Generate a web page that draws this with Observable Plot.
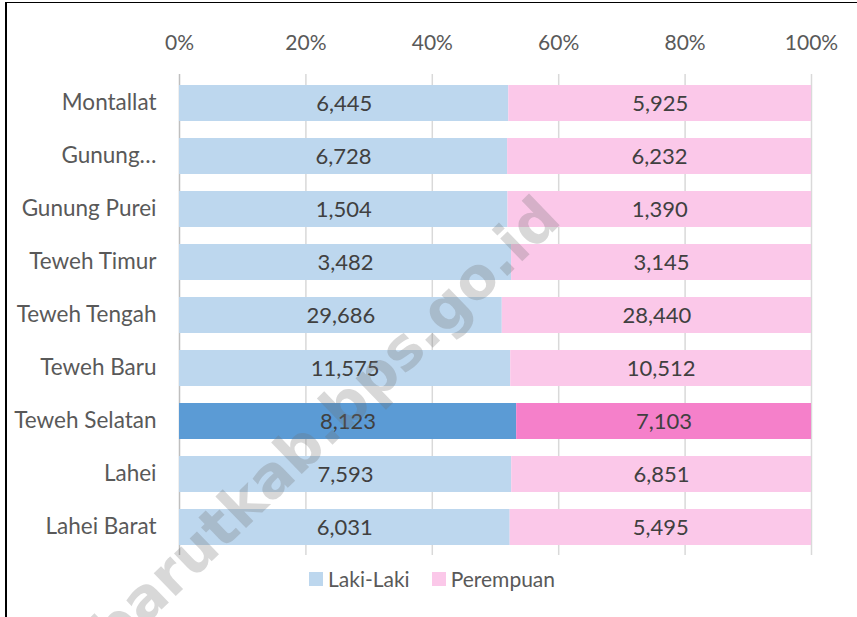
<!DOCTYPE html>
<html>
<head>
<meta charset="utf-8">
<script src="https://cdn.jsdelivr.net/npm/d3@7"></script>
<script src="https://cdn.jsdelivr.net/npm/@observablehq/plot@0.6"></script>
<style>
  html, body { margin: 0; padding: 0; background: #fff; }
  #wrap { position: relative; width: 857px; height: 617px; overflow: hidden; font-family: Lato, "Open Sans", sans-serif; }
  #chart { position: absolute; left: 0; top: 0; }
  #legend { position: absolute; left: 309px; top: 566px; display: flex; align-items: center; font-size: 21px; color: #595959; white-space: nowrap; }
  #legend .sw { width: 14px; height: 14px; display: inline-block; margin-right: 5px; }
  #legend .item { display: flex; align-items: center; margin-right: 22px; }
  #frame { position: absolute; left: 5px; top: 2px; width: 850px; height: 620px; border-left: 2px solid #000; border-top: 1px solid #000; pointer-events: none; }
  #wm { position: absolute; left: 0; top: 0; pointer-events: none; }
</style>
</head>
<body>
<div id="wrap">
  <div id="chart"></div>
  <div id="legend"></div>
  <svg id="wm" width="857" height="617"></svg>
  <div id="frame"></div>
</div>
<script>
// ---- data ----
const categories = ["Montallat", "Gunung…", "Gunung Purei", "Teweh Timur", "Teweh Tengah", "Teweh Baru", "Teweh Selatan", "Lahei", "Lahei Barat"];
const series = ["Laki-Laki", "Perempuan"];
const lakiLaki = [6445, 6728, 1504, 3482, 29686, 11575, 8123, 7593, 6031];
const perempuan = [5925, 6232, 1390, 3145, 28440, 10512, 7103, 6851, 5495];
const highlighted = "Teweh Selatan";
const xTicks = [0, 0.2, 0.4, 0.6, 0.8, 1];

// ---- styles ----
const baseColors = {"Laki-Laki": "#BDD7EE", "Perempuan": "#FBC8E9"};
const hiColors = {"Laki-Laki": "#5B9BD5", "Perempuan": "#F580CA"};

const rows = [];
categories.forEach((c, i) => {
  rows.push({category: c, sex: "Laki-Laki", value: lakiLaki[i]});
  rows.push({category: c, sex: "Perempuan", value: perempuan[i]});
});
const fillOf = d => (d.category === highlighted ? hiColors : baseColors)[d.sex];
const fmt = d3.format(",");

const chart = Plot.plot({
  width: 857,
  height: 562,
  marginTop: 74,
  marginBottom: 7,
  marginLeft: 179,
  marginRight: 46,
  style: {background: "transparent", fontFamily: "Lato, 'Open Sans', sans-serif", fontSize: "21px"},
  x: {domain: [0, 1], axis: null},
  y: {domain: categories, paddingInner: 0.33, paddingOuter: 0.165, axis: null},
  marks: [
    Plot.gridX(xTicks.filter(t => t > 0), {stroke: "#d9d9d9", strokeOpacity: 1, strokeWidth: 1.5}),
    Plot.ruleX([0], {stroke: "#bfbfbf", strokeWidth: 1.5}),
    Plot.barX(rows, Plot.stackX({offset: "normalize", order: series}, {x: "value", y: "category", z: "sex", fill: fillOf})),
    Plot.text(rows, Plot.stackX({offset: "normalize", order: series}, {x: "value", y: "category", z: "sex", text: d => fmt(d.value), fill: "#404040", fontSize: 22, dy: 0})),
    Plot.axisX(xTicks, {anchor: "top", tickSize: 0, tickPadding: 25, tickFormat: d3.format(".0%"), fontSize: 21, color: "#595959", label: null}),
    Plot.axisY(categories, {anchor: "left", tickSize: 0, tickPadding: 23, fontSize: 22.5, color: "#595959", label: null, dy: -1})
  ]
});
document.getElementById("chart").appendChild(chart);

// legend
const legend = document.getElementById("legend");
series.forEach(s => {
  const it = document.createElement("div");
  it.className = "item";
  const sw = document.createElement("span");
  sw.className = "sw";
  sw.style.background = baseColors[s];
  it.appendChild(sw);
  it.appendChild(document.createTextNode(s));
  legend.appendChild(it);
});

// watermark
const wm = d3.select("#wm");
wm.append("text")
  .attr("x", 563).attr("y", 222)
  .attr("text-anchor", "end")
  .attr("transform", "rotate(-44, 563, 222)")
  .attr("font-family", "'DejaVu Sans', Verdana, sans-serif")
  .attr("font-weight", "bold")
  .attr("font-size", 58)
  .attr("fill", "rgba(110,110,110,0.27)")
  .text("https://barutkab.bps.go.id");
</script>
</body>
</html>
